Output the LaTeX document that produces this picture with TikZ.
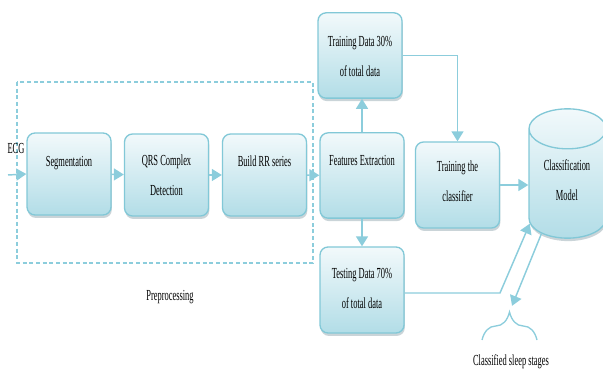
\documentclass[tikz,border=0pt]{standalone}
\usepackage{fontspec}
\setmainfont{Liberation Serif}[FakeStretch=0.55]
\usetikzlibrary{shapes.geometric,shadows,arrows.meta,decorations.pathreplacing}
\definecolor{edgeblue}{RGB}{130,200,215}
\definecolor{filltop}{RGB}{242,249,251}
\definecolor{fillbot}{RGB}{178,221,231}
\definecolor{shadowgray}{RGB}{150,170,178}
\definecolor{lineblue}{RGB}{140,205,220}
\tikzset{every picture/.style={line width=0.75pt}}
\tikzset{
  stagebox/.style={draw=edgeblue, line width=1pt, rounded corners=6pt,
    top color=filltop, bottom color=fillbot,
    minimum width=63pt, minimum height=61.5pt,
    drop shadow={shadow xshift=0.6pt, shadow yshift=-2.2pt, fill=shadowgray}},
  txt/.style={inner sep=0pt, align=center, font=\fontsize{11.5}{22.5}\selectfont},
  flow/.style={draw=lineblue, line width=1.1pt, -{Triangle[length=7.5pt,width=9pt]}},
}

\begin{document}
\begin{tikzpicture}[x=0.75pt,y=0.75pt,yscale=-1,xscale=1]
\useasboundingbox (0,0) rectangle (603,373);

% Preprocessing frame
\draw[draw=lineblue, line width=1pt, dash pattern=on 3pt off 2pt] (17,82) rectangle (313,263);

% Boxes
\node[stagebox] (seg) at (69,174) {};
\node[stagebox] (qrs) at (166.5,175) {};
\node[stagebox] (rr) at (264.5,175) {};
\node[stagebox, minimum height=64pt] (feat) at (362,175.5) {};
\node[stagebox, minimum height=64pt] (train) at (360,55.5) {};
\node[stagebox, minimum height=64.5pt] (test) at (362,290) {};
\node[stagebox, minimum height=64.5pt] (cls) at (457.5,185) {};
% Cylinder
\node[cylinder, shape border rotate=90, shape aspect=4.5, draw=edgeblue, line width=1pt,
  top color=filltop, bottom color=fillbot, minimum width=57.75pt, minimum height=97pt,
  drop shadow={shadow xshift=0.6pt, shadow yshift=-2.2pt, fill=shadowgray}] (cyl) at (567.5,188.5) {};

% Text Node
\node[txt, anchor=north] (segtxt) at (69,155.5) {Segmentation};
\node[txt, anchor=north] (qrstxt) at (166.5,154.5) {QRS Complex\\Detection};
\node[txt, anchor=north] (rrtxt) at (264.5,155.5) {Build RR series};
\node[txt, anchor=north] (feattxt) at (362,154.5) {Features Extraction};
\node[txt, anchor=north] (traintxt) at (360,35.5) {Training Data 30\%\\of total data};
\node[txt, anchor=north] (testtxt) at (362,267.5) {Testing Data 70\%\\of total data};
\node[txt, anchor=north] (clstxt) at (457.5,160.5) {Training the\\classifier};
\node[txt, anchor=north] (cyltxt) at (567,159.5) {Classification\\Model};
\node[txt] (ecg) at (16,149) {ECG};
\node[txt] (pre) at (170,297) {Preprocessing};
\node[txt] (stages) at (511,362) {Classified sleep stages};

% Connectors
\coordinate (ecgin) at (8,175);
\coordinate (bend) at (500,293);
\coordinate (tip) at (509.5,312);
\draw[flow] (ecgin) -- (seg.west);
\draw[flow] (seg) -- (qrs);
\draw[flow] (qrs) -- (rr);
\draw[flow] (rr) -- (feat);
\draw[flow] (feat.north) -- (feat.north |- train.south);
\draw[flow] (feat.south) -- (feat.south |- test.north);
\draw[flow] (train.east) -| (cls.north);
\draw[flow] (cls.east) -- (cls.east -| cyl.west);
\draw[flow] (test.east |- bend) -- (bend) -- (cyl.223);
\draw[flow, shorten >=5pt] (cyl.240) -- (tip);

% Brace
\draw[draw=lineblue, line width=1pt, decorate, decoration={brace, amplitude=21pt}] (482,340) -- (537,340);

\end{tikzpicture}
\end{document}
